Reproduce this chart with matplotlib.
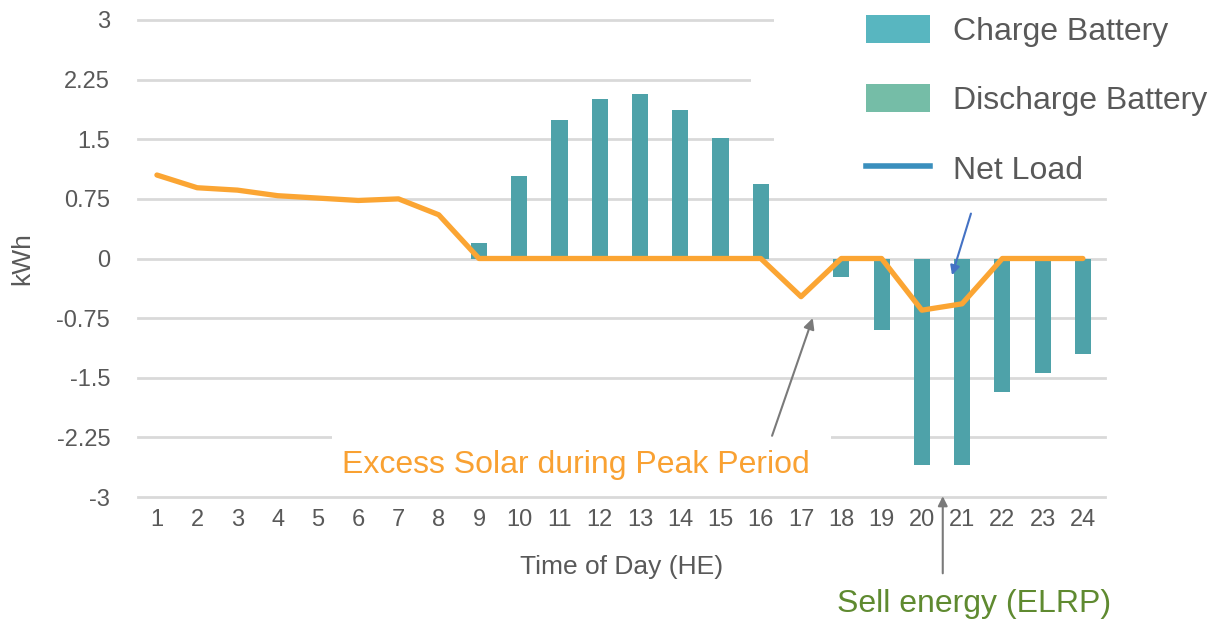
import matplotlib.pyplot as plt
from matplotlib.patches import Patch, Rectangle
from matplotlib.lines import Line2D

plt.rcParams['font.family'] = ['Liberation Sans', 'DejaVu Sans']

# hour ending 1..24
hours = list(range(1, 25))
battery = [0, 0, 0, 0, 0, 0, 0, 0, 0.2, 1.04, 1.74, 2.01, 2.07, 1.87, 1.51, 0.94,
           0, -0.23, -0.9, -2.6, -2.6, -1.68, -1.44, -1.2]
net_load = [1.05, 0.89, 0.86, 0.79, 0.76, 0.73, 0.75, 0.55, 0, 0, 0, 0, 0, 0, 0, 0,
            -0.48, 0, 0, -0.65, -0.57, 0, 0, 0]
yticks = [-3, -2.25, -1.5, -0.75, 0, 0.75, 1.5, 2.25, 3]
ytick_labels = ['-3', '-2.25', '-1.5', '-0.75', '0', '0.75', '1.5', '2.25', '3']
legend_labels = ['Charge Battery', 'Discharge Battery', 'Net Load']

bar_color = '#4ea2a9'
line_color = '#fba533'
grid_color = '#d9d9d9'
text_color = '#595959'

fig = plt.figure(figsize=(12.1, 6.22), dpi=100)
ax = fig.add_axes([138 / 1210, 1 - 497 / 622, 967 / 1210, 477 / 622])

ax.bar(hours, battery, width=0.4, color=bar_color, zorder=2)
ax.plot(hours, net_load, color=line_color, lw=3.8, solid_capstyle='round',
        solid_joinstyle='round', zorder=3)

ax.set_xlim(0.53, 24.55)
ax.set_ylim(-3, 3)
ax.set_xticks(hours)
ax.set_yticks(yticks)
ax.set_yticklabels(ytick_labels)
ax.tick_params(axis='both', length=0, labelsize=17, colors=text_color)
ax.tick_params(axis='y', pad=20)
ax.tick_params(axis='x', pad=9)
for s in ax.spines.values():
    s.set_visible(False)
ax.set_axisbelow(True)
ax.yaxis.grid(True, color=grid_color, lw=2)
for gl in ax.get_ygridlines():
    gl.set_clip_on(False)

# white areas that hide parts of the gridlines (legend / text boxes)
ax.add_patch(Rectangle((16.33, 1.3), 9, 2.1, facecolor='white', edgecolor='none',
                       zorder=1, clip_on=False))
ax.add_patch(Rectangle((15.75, 2.1), 1, 0.3, facecolor='white', edgecolor='none',
                       zorder=1, clip_on=False))
ax.add_patch(Rectangle((5.35, -2.45), 12.4, 0.3, facecolor='white', edgecolor='none',
                       zorder=1))

ax.set_xlabel('Time of Day (HE)', fontsize=19, color=text_color)
ax.xaxis.set_label_coords(0.5, -0.122)
ax.set_ylabel('kWh', fontsize=19, color=text_color)
ax.yaxis.set_label_coords(-0.1075, 0.5)

# annotations
ax.text(11.4, -2.6, 'Excess Solar during Peak Period', fontsize=23, color='#f9a132',
        ha='center', va='center', zorder=4)
ax.annotate('', xy=(17.29, -0.75), xytext=(16.28, -2.23),
            arrowprops=dict(arrowstyle='-|>', color='#7a7a7a', lw=1.5, mutation_scale=16,
                            shrinkA=0, shrinkB=0), zorder=4)
ax.annotate('', xy=(20.75, -0.21), xytext=(21.22, 0.565),
            arrowprops=dict(arrowstyle='-|>', color='#4472c4', lw=1.5, mutation_scale=14,
                            shrinkA=0, shrinkB=0), zorder=4)
ax.annotate('', xy=(20.52, -2.99), xytext=(20.52, -3.96), annotation_clip=False,
            arrowprops=dict(arrowstyle='-|>', color='#7a7a7a', lw=1.5, mutation_scale=14,
                            shrinkA=0, shrinkB=0), zorder=4)
ax.text(21.3, -4.35, 'Sell energy (ELRP)', fontsize=23, color='#5f8a30',
        ha='center', va='center', clip_on=False)

handles = [Patch(facecolor='#58b6c0', edgecolor='none'),
           Patch(facecolor='#75bda7', edgecolor='none'),
           Line2D([0], [0], color='#3a8fbd', lw=4)]
fig.legend(handles, legend_labels, loc='upper left',
           bbox_to_anchor=(866 / 1210, 1 - 15 / 622), frameon=False, fontsize=23,
           labelcolor=text_color, borderpad=0, borderaxespad=0, handlelength=2.0,
           handleheight=0.95, handletextpad=0.72, labelspacing=1.18)

fig.savefig('out.png', dpi=100)
